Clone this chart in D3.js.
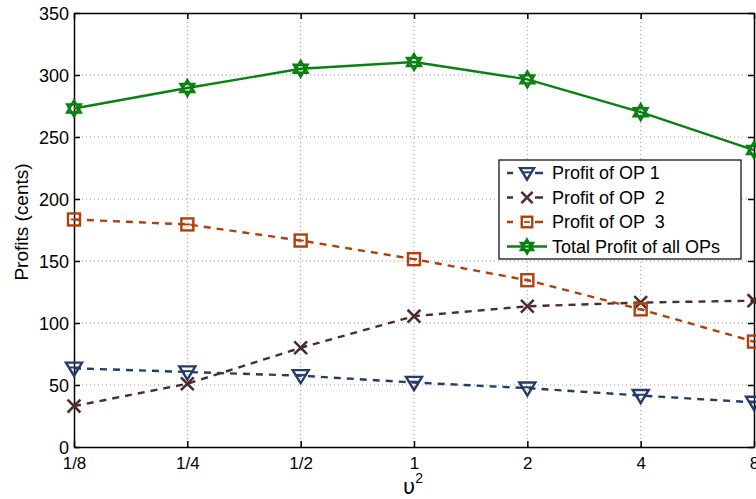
<!DOCTYPE html>
<html><head><meta charset="utf-8">
<script src="https://cdn.jsdelivr.net/npm/d3@7"></script>
<style>body{margin:0;background:#fff}svg{display:block}text{font-family:"Liberation Sans",Arial,sans-serif}</style>
</head><body>
<script>
const categories = ["1/8","1/4","1/2","1","2","4","8"];
const op1 = [63.5, 60.5, 57.5, 52, 47.5, 41.5, 36];
const op2 = [33, 51, 80, 105.5, 113.5, 116.5, 118];
const op3 = [183.5, 179.5, 166.5, 151.5, 134.5, 111, 85];
const total = [273, 289.5, 305, 310.5, 296.5, 270, 239.5];
const yTicks = [0,50,100,150,200,250,300,350];
const seriesNames = ["Profit of OP 1","Profit of OP  2","Profit of OP  3","Total Profit of all OPs"];

const W=756,H=499, m={l:74,r:2,t:13,b:52};
const svg=d3.select("body").append("svg").attr("width",W).attr("height",H);
const x=d3.scalePoint().domain(categories).range([m.l,W-m.r]);
const y=d3.scaleLinear().domain([0,350]).range([H-m.b,m.t]);
const g=svg.append("g");
// grid
g.selectAll(".gx").data(categories.slice(1,-1)).join("line")
 .attr("x1",d=>x(d)).attr("x2",d=>x(d)).attr("y1",y(0)).attr("y2",y(350))
 .attr("stroke","#999").attr("stroke-width",1).attr("stroke-dasharray","1,3");
g.selectAll(".gy").data(yTicks.slice(1,-1)).join("line")
 .attr("x1",m.l).attr("x2",W-m.r).attr("y1",d=>y(d)).attr("y2",d=>y(d))
 .attr("stroke","#999").attr("stroke-width",1).attr("stroke-dasharray","1,3");
// axes
const ax=svg.append("g").attr("transform",`translate(0,${y(0)})`)
 .call(d3.axisBottom(x).tickSizeInner(-6).tickSizeOuter(0).tickPadding(0));
const ay=svg.append("g").attr("transform",`translate(${m.l},0)`)
 .call(d3.axisLeft(y).tickValues(yTicks).tickSizeInner(-6).tickSizeOuter(0).tickPadding(5));
const axTop=svg.append("g").attr("transform",`translate(0,${y(350)})`)
 .call(d3.axisTop(x).tickSizeInner(-6).tickSizeOuter(0).tickFormat(""));
const ayR=svg.append("g").attr("transform",`translate(${W-m.r},0)`)
 .call(d3.axisRight(y).tickValues(yTicks).tickSizeInner(-6).tickSizeOuter(0).tickFormat(""));
[ax,ay,axTop,ayR].forEach(a=>{a.selectAll("path,line").attr("stroke","#000").attr("stroke-width",1.5);
 a.selectAll("text").attr("font-size",18).attr("fill","#000").style("font-family","'Liberation Sans',Arial,sans-serif");});
ax.selectAll("text").attr("font-size",17).attr("y",22).attr("dy",0);
ay.selectAll("text").attr("dy","0.34em");
// labels
svg.append("text").attr("transform",`translate(28,222) rotate(-90)`)
 .attr("text-anchor","middle").attr("font-size",19).text("Profits (cents)");
const xl=svg.append("text").attr("x",403).attr("y",494).attr("font-size",21)
 .style("font-family","'DejaVu Sans',sans-serif").text("υ");
xl.append("tspan").attr("font-size",14).attr("dy",-11).style("font-family","'Liberation Sans',Arial").text("2");

const colors=["#233c6b","#4e2c2c","#b23f0a","#0a8010"];
const data=[op1,op2,op3,total];
const dashes=["7,6","7,6","7,6",null];
const line=d3.line().x((d,i)=>x(categories[i])).y(d=>y(d));
function marker(sel,k,cx,cy,s){
 const c=colors[k];
 const gg=sel.append("g").attr("transform",`translate(${cx},${cy})`);
 if(k===0){gg.append("path").attr("d",`M${-s},${-s*0.7}L${s},${-s*0.7}L0,${s*0.95}Z`).attr("fill","none").attr("stroke",c).attr("stroke-width",2.4);
   gg.append("line").attr("x1",-s*0.55).attr("x2",s*0.55).attr("y1",-s*0.1).attr("y2",-s*0.1).attr("stroke",c).attr("stroke-width",2);}
 else if(k===1){gg.append("path").attr("d",`M${-s*0.8},${-s*0.8}L${s*0.8},${s*0.8}M${-s*0.8},${s*0.8}L${s*0.8},${-s*0.8}`).attr("stroke",c).attr("stroke-width",2.6);}
 else if(k===2){gg.append("rect").attr("x",-s*0.75).attr("y",-s*0.75).attr("width",s*1.5).attr("height",s*1.5).attr("fill","none").attr("stroke",c).attr("stroke-width",2.4);
   gg.append("line").attr("x1",-s*0.4).attr("x2",s*0.4).attr("y1",0).attr("y2",0).attr("stroke",c).attr("stroke-width",1.8);}
 else {const r=s;
   const t1=d3.range(3).map(i=>{const a=-Math.PI/2+i*2*Math.PI/3;return [r*Math.cos(a),r*Math.sin(a)];});
   const t2=d3.range(3).map(i=>{const a=Math.PI/2+i*2*Math.PI/3;return [r*Math.cos(a),r*Math.sin(a)];});
   gg.append("path").attr("d","M"+t1.join("L")+"Z").attr("fill","none").attr("stroke",c).attr("stroke-width",2.4);
   gg.append("path").attr("d","M"+t2.join("L")+"Z").attr("fill","none").attr("stroke",c).attr("stroke-width",2.4);}
}
data.forEach((ser,k)=>{
 svg.append("path").datum(ser).attr("d",line).attr("fill","none").attr("stroke",colors[k]).attr("stroke-width",2.4)
  .attr("stroke-dasharray",dashes[k]);
 ser.forEach((v,i)=>marker(svg,k,x(categories[i]),y(v),8));
});
// legend
const lg=svg.append("g");
lg.append("rect").attr("x",499).attr("y",160).attr("width",242).attr("height",99).attr("fill","#fff").attr("stroke","#000").attr("stroke-width",1.2);
seriesNames.forEach((n,k)=>{
 const yy=173+k*24.5;
 lg.append("line").attr("x1",507).attr("x2",547).attr("y1",yy).attr("y2",yy).attr("stroke",colors[k]).attr("stroke-width",2.4)
  .attr("stroke-dasharray",k<3?"6,22,8":null);
 marker(lg,k,527,yy,7);
 lg.append("text").attr("x",552).attr("y",yy).attr("dy","0.36em").attr("font-size",18)
  .style("white-space","pre").attr("xml:space","preserve").text(n);
});
</script>
</body></html>
